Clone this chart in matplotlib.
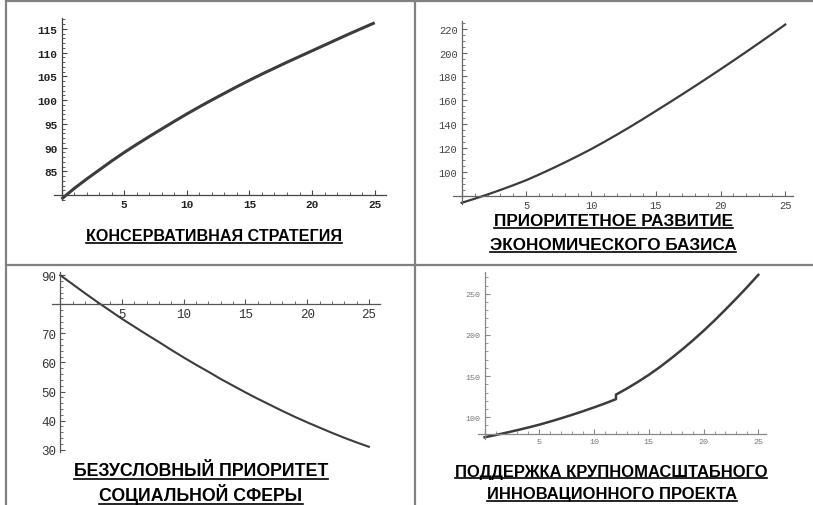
import matplotlib
matplotlib.use("Agg")
import matplotlib.pyplot as plt
from matplotlib.lines import Line2D
from matplotlib.ticker import MultipleLocator

W, H = 813, 506

# years of the forecast horizon
years = list(range(26))

# --- scenario values ---
conservative = [79.2, 81.4, 83.4, 85.3, 87.2, 89.0, 90.7, 92.35, 93.95, 95.55,
                97.1, 98.6, 100.05, 101.45, 102.85, 104.2, 105.5, 106.75, 108.0,
                109.2, 110.4, 111.6, 112.8, 114.0, 115.15, 116.3]
economic = [74.0, 77.4, 81.0, 84.8, 88.8, 93.0, 97.8, 102.8, 108.0, 113.4,
            119.0, 125.0, 131.2, 137.6, 144.2, 151.0, 157.8, 164.7, 171.7,
            178.8, 186.0, 193.3, 200.7, 208.2, 215.8, 223.5]
social = [90.0, 86.9, 83.8, 80.8, 77.9, 75.0, 72.3, 69.6, 67.0, 64.3, 61.7,
          59.2, 56.8, 54.3, 52.0, 49.7, 47.5, 45.4, 43.3, 41.3, 39.4, 37.6,
          35.8, 34.1, 32.5, 31.0]
# the innovation project starts in year 12: value jumps at that point
innov_years = list(range(13)) + list(range(12, 26))
innovation = [75.7, 78.4, 81.3, 84.4, 87.6, 91.0, 94.8, 98.8, 103.0, 107.4,
              112.0, 116.8, 122.0,
              127.5, 134.9, 142.9, 151.5, 160.9, 171.1, 181.8, 193.1, 205.0,
              217.6, 230.8, 244.4, 258.4, 273.0]

titles = [
    ["КОНСЕРВАТИВНАЯ СТРАТЕГИЯ"],
    ["ПРИОРИТЕТНОЕ РАЗВИТИЕ", "ЭКОНОМИЧЕСКОГО БАЗИСА"],
    ["БЕЗУСЛОВНЫЙ ПРИОРИТЕТ", "СОЦИАЛЬНОЙ СФЕРЫ"],
    ["ПОДДЕРЖКА КРУПНОМАСШТАБНОГО", "ИННОВАЦИОННОГО ПРОЕКТА"],
]

TITLE_FONT = ["Liberation Sans", "DejaVu Sans"]
TICK_FONT = ["Liberation Mono", "DejaVu Sans Mono"]


def px_axes(fig, left, top, right, bottom):
    """Create axes from pixel box (origin at top-left)."""
    return fig.add_axes([left / W, 1 - bottom / H, (right - left) / W, (bottom - top) / H])


def style_axes(ax, xlim, ylim, ymajor, yminor, axis_color, label_size, label_color,
               weight="normal"):
    ax.set_xlim(*xlim)
    ax.set_ylim(*ylim)
    ax.patch.set_alpha(0)
    for s in ["top", "right"]:
        ax.spines[s].set_visible(False)
    ax.spines["left"].set_position(("data", 0))
    ax.spines["bottom"].set_position(("data", 80))
    for s in ["left", "bottom"]:
        ax.spines[s].set_color(axis_color)
        ax.spines[s].set_linewidth(0.9)
    ax.xaxis.set_major_locator(MultipleLocator(5))
    ax.xaxis.set_minor_locator(MultipleLocator(1))
    ax.yaxis.set_major_locator(MultipleLocator(ymajor))
    ax.yaxis.set_minor_locator(MultipleLocator(yminor))
    ax.tick_params(which="major", direction="in", length=3.5, width=0.8,
                   color=axis_color, labelsize=label_size, labelcolor=label_color, pad=3)
    ax.tick_params(which="minor", direction="in", length=2, width=0.6, color=axis_color)
    ax.xaxis.set_major_formatter(plt.FuncFormatter(lambda v, p: "" if v <= 0 else f"{v:g}"))
    ax.yaxis.set_major_formatter(plt.FuncFormatter(lambda v, p: "" if abs(v - 80) < 1e-6 else f"{v:g}"))
    for lab in ax.get_xticklabels() + ax.get_yticklabels():
        lab.set_family(TICK_FONT)
        lab.set_weight(weight)


def main():
    fig = plt.figure(figsize=(W / 100, H / 100), dpi=100)
    fig.patch.set_facecolor("white")

    line_col = "#3c3c3c"

    ax1 = px_axes(fig, 54, 19, 386, 201)
    ax1.plot(years, conservative, color=line_col, lw=2.2, solid_capstyle="butt")
    style_axes(ax1, (-0.6, 25.9), (79.0, 117.3), 5, 1, "#444444", 8, "#222222", "bold")

    ax2 = px_axes(fig, 453, 22, 793, 205)
    ax2.plot(years, economic, color=line_col, lw=1.6)
    style_axes(ax2, (-0.67, 25.6), (73.0, 226.5), 20, 5, "#666666", 7.5, "#444444")

    ax3 = px_axes(fig, 52, 273, 380, 453)
    ax3.plot(years, social, color=line_col, lw=1.5)
    style_axes(ax3, (-0.67, 25.9), (29.2, 91.1), 10, 2, "#555555", 9, "#333333")

    ax4 = px_axes(fig, 478, 273, 766, 440)
    ax4.plot(innov_years, innovation, color=line_col, lw=1.8)
    style_axes(ax4, (-0.6, 25.7), (73.6, 276.4), 50, 10, "#888888", 6, "#777777")

    # table borders
    border = dict(color="#808080", lw=1.6, transform=fig.transFigure)
    fig.add_artist(Line2D([6 / W, 1], [1 - 2 / H, 1 - 2 / H], **border))
    fig.add_artist(Line2D([6 / W, 1], [1 - 265.5 / H, 1 - 265.5 / H], **border))
    fig.add_artist(Line2D([6 / W, 6 / W], [0, 1 - 2 / H], **border))
    fig.add_artist(Line2D([415 / W, 415 / W], [0, 1 - 2 / H], **border))

    # captions: (center x, center y) of each line in pixels, font size per panel
    caption_pos = [
        [(214, 237)],
        [(613, 222), (613, 246)],
        [(201, 472), (201, 495)],
        [(611, 472), (612, 495)],
    ]
    caption_size = [11.6, 12.3, 12.8, 11.9]
    texts = []
    for lines, spots, fs in zip(titles, caption_pos, caption_size):
        for line, (cx, cy) in zip(lines, spots):
            t = fig.text(cx / W, 1 - cy / H, line, ha="center", va="center",
                         family=TITLE_FONT, weight="bold", fontsize=fs, color="black")
            texts.append(t)

    # underline every caption line
    fig.canvas.draw()
    for t in texts:
        bb = t.get_window_extent()
        y = bb.y0 + 1
        fig.add_artist(Line2D([bb.x0 / W, bb.x1 / W], [y / H, y / H],
                              color="black", lw=1.2, transform=fig.transFigure))

    fig.savefig("out.png", dpi=100)


if __name__ == "__main__":
    main()
